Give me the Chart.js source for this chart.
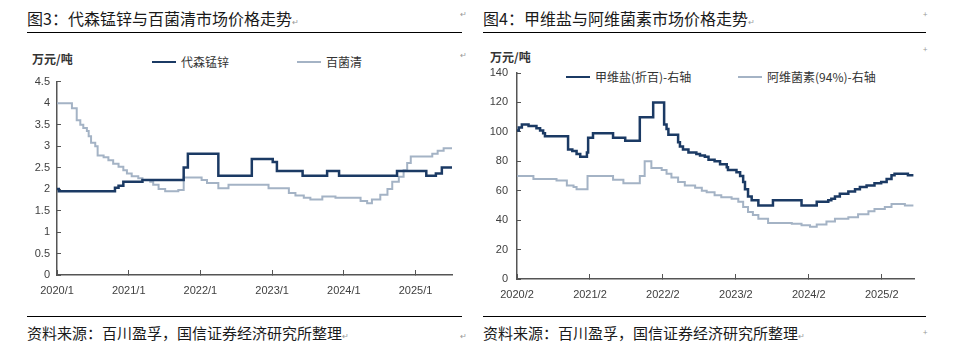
<!DOCTYPE html>
<html>
<head>
<meta charset="utf-8">
<script src="https://cdn.jsdelivr.net/npm/chart.js@4.4.1/dist/chart.umd.min.js"></script>
<style>
    body { margin: 0; width: 957px; height: 349px; background: #fff; position: relative; overflow: hidden;
           font-family: "Noto Sans CJK SC", "Noto Sans", sans-serif; color: #1a1a1a; }
    .abs { position: absolute; white-space: nowrap; }
    .title { font-size: 16px; line-height: 16px; top: 10px; }
    .rule { position: absolute; height: 1px; background: #000; }
    .src { font-size: 15px; line-height: 15px; top: 325px; }
    .unit { font-size: 12px; line-height: 12px; font-weight: bold; color: #333; }
    .leg { position: absolute; font-size: 12px; line-height: 12px; color: #333; display: flex; align-items: center; white-space: nowrap; }
    .leg i { display: inline-block; margin-right: 5px; }
    .mark { font-size: 8px; line-height: 8px; color: #999; }
    canvas { position: absolute; top: 40px; }
</style>
</head>
<body>
<div class="abs title" style="left:27px">图3：代森锰锌与百菌清市场价格走势<span class="mark">↵</span></div>
<div class="abs title" style="left:483px">图4：甲维盐与阿维菌素市场价格走势<span class="mark">↵</span></div>
<div class="rule" style="left:27px;width:435px;top:32px"></div>
<div class="rule" style="left:483px;width:443px;top:32px"></div>
<div class="rule" style="left:27px;width:435px;top:316px"></div>
<div class="rule" style="left:483px;width:443px;top:316px"></div>
<div class="abs src" style="left:27px">资料来源：百川盈孚，国信证券经济研究所整理<span class="mark">↵</span></div>
<div class="abs src" style="left:483px">资料来源：百川盈孚，国信证券经济研究所整理<span class="mark">↵</span></div>
<div class="abs mark" style="left:460px;top:10px">↵</div>
<div class="abs mark" style="left:460px;top:51px">↵</div>
<div class="abs mark" style="left:460px;top:332px">↵</div>
<div class="abs mark" style="left:923px;top:10px">+</div>
<div class="abs mark" style="left:923px;top:45px">+</div>
<div class="abs mark" style="left:923px;top:328px">+</div>
<div class="abs unit" style="left:32px;top:53px">万元/吨</div>
<div class="abs unit" style="left:490px;top:51px">万元/吨</div>
<div id="legLeft"></div>
<div id="legRight"></div>
<canvas id="left" width="470" height="270" style="left:0"></canvas>
<canvas id="right" width="482" height="270" style="left:475px"></canvas>

<script>
// prices in 万元/吨; each date is where a new price level starts (step line)
// 代森锰锌
const mzDates = ['2020-01-01','2020-01-10','2020-10-22','2020-11-10','2020-12-04','2021-03-10','2021-10-07','2021-10-28',
    '2022-04-01','2022-09-19','2023-01-04','2023-01-25','2023-06-04','2023-10-07','2023-12-07','2024-09-28',
    '2025-02-25','2025-04-13','2025-05-13','2025-07-04'];
const mzPrice = [2.0, 1.95, 2.03, 2.08, 2.17, 2.21, 2.5, 2.82, 2.31, 2.7, 2.63, 2.42, 2.31, 2.42, 2.31, 2.42,
    2.31, 2.36, 2.5, 2.5];

// 百菌清
const bjqDates = ['2020-01-01','2020-03-16','2020-04-10','2020-04-28','2020-05-13','2020-06-01','2020-06-10','2020-06-22',
    '2020-07-13','2020-07-25','2020-08-25','2020-09-19','2020-10-13','2020-11-10','2020-12-04','2020-12-22',
    '2021-01-16','2021-02-19','2021-03-10','2021-04-19','2021-05-04','2021-06-01','2021-07-04','2021-09-10',
    '2021-10-07','2022-01-07','2022-02-04','2022-04-01','2022-05-22','2022-12-13','2023-03-25','2023-04-28',
    '2023-06-10','2023-07-13','2023-09-13','2023-11-19','2024-03-25','2024-04-28','2024-05-22','2024-07-04',
    '2024-08-10','2024-09-04','2024-10-07','2024-11-01','2024-11-19','2024-12-07','2025-03-25','2025-04-22',
    '2025-05-22','2025-07-04'];
const bjqPrice = [4.0, 3.88, 3.6, 3.5, 3.42, 3.35, 3.23, 3.08,
    3.0, 2.78, 2.74, 2.67, 2.59, 2.52, 2.44, 2.36,
    2.3, 2.25, 2.21, 2.17, 2.1, 2.0, 1.95, 1.98,
    2.27, 2.21, 2.14, 2.02, 2.1, 2.02, 1.91, 1.85,
    1.8, 1.76, 1.83, 1.8, 1.72, 1.67, 1.76, 1.87,
    2.0, 2.17, 2.29, 2.44, 2.61, 2.76, 2.82, 2.89,
    2.95, 2.95];

// 甲维盐(折百)
const jwyDates = ['2020-02-01','2020-02-10','2020-02-25','2020-03-28','2020-05-07','2020-05-25','2020-06-10','2020-06-19',
    '2020-10-13','2020-11-04','2020-11-25','2020-12-13','2021-01-16','2021-01-22','2021-02-16','2021-05-25',
    '2021-07-25','2021-10-07','2021-12-13','2022-02-07','2022-02-19','2022-02-28','2022-04-16','2022-04-25',
    '2022-05-10','2022-06-07','2022-07-16','2022-08-04','2022-08-28','2022-09-16','2022-10-16','2022-11-13',
    '2022-12-16','2022-12-22','2023-02-04','2023-02-22','2023-03-07','2023-03-16','2023-04-01','2023-04-19',
    '2023-05-22','2023-08-04','2023-12-25','2024-03-10','2024-05-07','2024-05-22','2024-06-10','2024-07-04',
    '2024-08-16','2024-09-19','2024-10-13','2024-11-16','2024-12-25','2025-01-28','2025-02-25','2025-03-19',
    '2025-04-04','2025-06-10','2025-07-07'];
const jwyPrice = [101, 103, 105, 104, 102.5, 101, 99, 97,
    88, 87, 85, 83, 86, 96, 99, 96,
    94, 110, 120, 105, 102, 98, 93, 90,
    88, 86, 85, 84, 83, 81, 80, 78,
    76, 74, 72.5, 70, 66, 61, 56, 53.5,
    50, 53.5, 50, 52.5, 53.5, 54.5, 56, 58,
    59.5, 61, 62.5, 63.5, 65, 66, 68, 70.5,
    71.5, 70.5, 70.5];

// 阿维菌素(94%)
const awDates = ['2020-02-01','2020-04-22','2020-08-16','2020-10-07','2020-11-10','2020-11-25','2021-01-19','2021-05-25',
    '2021-07-16','2021-10-07','2021-11-01','2021-12-04','2022-01-25','2022-02-19','2022-03-13','2022-04-16',
    '2022-05-19','2022-07-10','2022-08-13','2022-09-07','2022-10-16','2022-11-19','2023-01-10','2023-02-13',
    '2023-03-07','2023-04-01','2023-04-25','2023-05-22','2023-07-10','2023-11-07','2023-12-25','2024-02-07',
    '2024-03-10','2024-04-28','2024-06-10','2024-08-16','2024-10-04','2024-11-25','2024-12-25','2025-02-16',
    '2025-03-19','2025-05-25','2025-07-07'];
const awPrice = [70, 68, 67, 63.5, 62.5, 61, 70, 67.5,
    65, 70, 80, 75.5, 74, 71.5, 69, 66,
    63.5, 62, 60, 59, 57, 55.5, 54.5, 52.5,
    49, 45.5, 43.5, 41, 38, 37.5, 36.5, 35.5,
    37, 39, 41, 42, 44, 46, 47.5, 49,
    51, 50, 50];

const leftNames = ['代森锰锌', '百菌清'];
const rightNames = ['甲维盐(折百)-右轴', '阿维菌素(94%)-右轴'];
const leftXLabels = ['2020/1', '2021/1', '2022/1', '2023/1', '2024/1', '2025/1'];
const rightXLabels = ['2020/2', '2021/2', '2022/2', '2023/2', '2024/2', '2025/2'];

const DARK = '#1b3a64';
const LIGHT = '#a4b3c5';
const AXIS = '#555';
const TEXT = '#404040';

// months since 2020/1 (day adds a fraction)
function toX(d) {
    const [y, m, day] = d.split(/[-\/]/).map(Number);
    return (y - 2020) * 12 + (m - 1) + ((day || 1) - 1) / 30;
}

function points(dates, vals) {
    return dates.map((d, i) => ({x: toX(d), y: vals[i]}));
}

function legend(id, names, lefts, top) {
    const box = document.getElementById(id);
    names.forEach((n, i) => {
        const el = document.createElement('div');
        el.className = 'leg';
        el.style.left = lefts[i] + 'px';
        el.style.top = top + 'px';
        el.innerHTML = `<i style="width:24px;height:${i ? 2 : 2.5}px;background:${i ? LIGHT : DARK}"></i>${n}`;
        box.appendChild(el);
    });
}

function makeChart(id, names, series, xLabels, xMax, yMax, yStep, pad, yWidth, yPad) {
    return new Chart(document.getElementById(id), {
        type: 'line',
        data: {
            datasets: series.map((s, i) => ({
                label: names[i],
                data: s,
                borderColor: i ? LIGHT : DARK,
                borderWidth: i ? 2 : 2.5,
                stepped: true,
                pointRadius: 0,
                fill: false
            }))
        },
        options: {
            responsive: false,
            animation: false,
            events: [],
            layout: {padding: pad},
            plugins: {legend: {display: false}, tooltip: {enabled: false}},
            scales: {
                x: {
                    type: 'linear',
                    min: toX(xLabels[0]),
                    max: xMax,
                    afterBuildTicks: s => { s.ticks = xLabels.map(l => ({value: toX(l)})); },
                    afterFit: s => { s.height = 25; },
                    ticks: {
                        autoSkip: false, maxRotation: 0, padding: 14, color: TEXT,
                        font: {family: 'Liberation Sans, Arial, sans-serif', size: 11},
                        callback: (v, i) => xLabels[i]
                    },
                    grid: {drawOnChartArea: false, tickLength: -5, color: AXIS},
                    border: {color: AXIS, width: 1.5}
                },
                y: {
                    min: 0,
                    max: yMax,
                    afterFit: s => { s.width = yWidth; },
                    ticks: {
                        stepSize: yStep, padding: yPad, color: TEXT,
                        font: {family: 'Liberation Sans, Arial, sans-serif', size: 11},
                        callback: v => String(v)
                    },
                    grid: {drawOnChartArea: false, tickLength: -4, color: AXIS},
                    border: {color: AXIS, width: 1.5}
                }
            }
        }
    });
}

legend('legLeft', leftNames, [152, 297], 56);
legend('legRight', rightNames, [566, 738], 71);

makeChart('left', leftNames, [points(mzDates, mzPrice), points(bjqDates, bjqPrice)],
    leftXLabels, 66.1, 4.5, 0.5, {left: 0, right: 18, top: 41.7, bottom: 10}, 57, 11);
makeChart('right', rightNames, [points(jwyDates, jwyPrice), points(awDates, awPrice)],
    rightXLabels, 66.3, 140, 20, {left: 0, right: 43, top: 33, bottom: 6}, 42, 13);
</script>
</body>
</html>
